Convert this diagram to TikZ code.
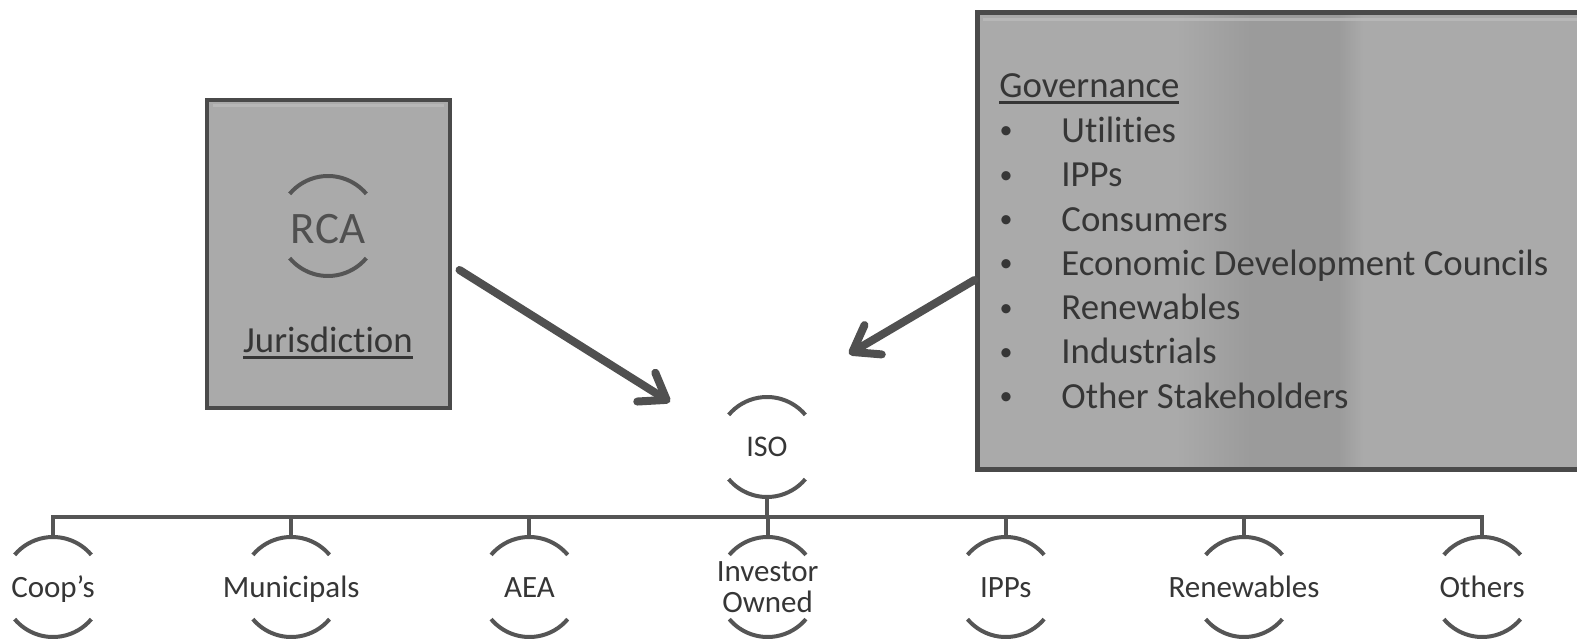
\documentclass[tikz,border=0pt]{standalone}
\usepackage{fontspec}
\setmainfont{Carlito}[Ligatures={NoCommon}]
\usetikzlibrary{arrows.meta,calc}
\definecolor{linegray}{HTML}{555555}
\definecolor{arrowgray}{HTML}{505050}
\definecolor{bordergray}{HTML}{4A4A4A}
\definecolor{rcafill}{HTML}{AAAAAA}
\definecolor{govA}{HTML}{AAAAAA}
\definecolor{govB}{HTML}{9B9B9B}
\definecolor{textgray}{HTML}{363636}
\definecolor{rcatext}{HTML}{505050}
\definecolor{bevel}{HTML}{BDBDBD}
\newcommand\thickul[1]{\leavevmode\vtop{\hbox{#1}\kern1.6pt\hrule height1.3pt}}
\pgfdeclarehorizontalshading{govshade}{100bp}{color(0bp)=(govA); color(25bp)=(govA); color(41bp)=(govA); color(47bp)=(govB); color(54bp)=(govB); color(56bp)=(govA); color(75bp)=(govA); color(100bp)=(govA)}
\newcommand\ringarcs[1]{%
  \draw[arcline] ($(#1)+(40:25pt)$) arc[start angle=40,end angle=140,radius=25pt]
                 ($(#1)+(220:25pt)$) arc[start angle=220,end angle=320,radius=25pt];}
\begin{document}
\begin{tikzpicture}[x=0.5pt,y=-0.5pt,
  arcline/.style={draw=linegray,line width=2pt},
  conn/.style={draw=linegray,line width=2pt,line join=miter},
  bigarrow/.style={draw=arrowgray,line width=4pt,line cap=round,
    -{Straight Barb[length=12pt,width=17pt,round]}},
  lbl/.style={font=\fontsize{15.5pt}{15.5pt}\selectfont,text=textgray,inner sep=0pt},
  govtxt/.style={font=\fontsize{18.4pt}{20pt}\selectfont,text=textgray,inner sep=0pt,anchor=base west},
  bul/.style={font=\fontsize{13pt}{14pt}\selectfont,text=textgray,inner sep=0pt,anchor=base}]
\clip (0,0) rectangle (1577,640);
\fill[white] (0,0) rectangle (1577,640);

% boxes
\node[draw=bordergray,line width=2pt,fill=rcafill,minimum width=121.5pt,minimum height=154pt,inner sep=0pt] (rcabox) at (328,254) {};
\draw[bevel,line width=1.5pt,opacity=0.7] ([xshift=4pt,yshift=-4pt]rcabox.north west) -- ([xshift=-4pt,yshift=-4pt]rcabox.north east);
\node[draw=bordergray,line width=2.5pt,shading=govshade,minimum width=311.5pt,minimum height=228pt,inner sep=0pt] (gov) at (1288.5,241) {};
\draw[bevel,line width=1.5pt,opacity=0.7] ([xshift=4pt,yshift=-4.5pt]gov.north west) -- ([yshift=-4.5pt]gov.north east);

% RCA content
\coordinate (rc) at (328,226);
\ringarcs{rc}
\node[font=\fontsize{22.5pt}{24pt}\selectfont,text=rcatext,inner sep=0pt,anchor=base] (rca) at (328,244) {RCA};
\node[font=\fontsize{18.4pt}{20pt}\selectfont,text=textgray,inner sep=0pt,anchor=base] (jur) at (328,353) {\thickul{Jurisdiction}};

% Governance content
\node[govtxt] (govt) at (999,98) {\thickul{Governance}};
\foreach \t [count=\i from 0] in {Utilities,IPPs,Consumers,Economic Development Councils,Renewables,Industrials,Other Stakeholders}{
  \node[bul] (b\i) at (1006,139+44.3*\i) {•};
  \node[govtxt] (g\i) at (1061,142.5+44.3*\i) {\t};
}

% ISO
\coordinate (iso) at (767,447);
\ringarcs{iso}
\node[lbl,font=\fontsize{15pt}{15pt}\selectfont,anchor=base] (isot) at (767,457) {ISO};
\coordinate (isob) at (767,497);
\coordinate (bus) at (767,517);

% children
\foreach \x [count=\i] in {53,291.2,529.4,767.6,1005.8,1244,1482.2}{
  \coordinate (c\i) at (\x,587);
  \coordinate (t\i) at (\x,537);
  \ringarcs{c\i}
}
\node[lbl,anchor=base] (coop) at (c1|-0,597) {Coop’s};
\node[lbl,anchor=base] (muni) at (c2|-0,597) {Municipals};
\node[lbl,anchor=base] (aea) at (c3|-0,597) {AEA};
\node[lbl,align=center,font=\fontsize{15.5pt}{15.5pt}\selectfont] (inv) at (c4|-0,587) {Investor\\Owned};
\node[lbl,anchor=base] (ipps) at (c5|-0,597) {IPPs};
\node[lbl,anchor=base] (ren) at (c6|-0,597) {Renewables};
\node[lbl,anchor=base] (oth) at (c7|-0,597) {Others};

% connectors
\draw[conn] (isob) -- (bus);
\draw[conn] (t1) -- (t1|-bus) -- (t7|-bus) -- (t7);
\foreach \i in {2,...,6}{\draw[conn] (t\i) -- (t\i|-bus);}

% arrows
\coordinate (a1) at (670,402);
\coordinate (a2) at (849,354);
\draw[bigarrow] ([xshift=4pt,yshift=-8pt]rcabox.east) -- (a1);
\draw[bigarrow] ([xshift=0pt,yshift=-19.5pt]gov.west) -- (a2);
\end{tikzpicture}
\end{document}
